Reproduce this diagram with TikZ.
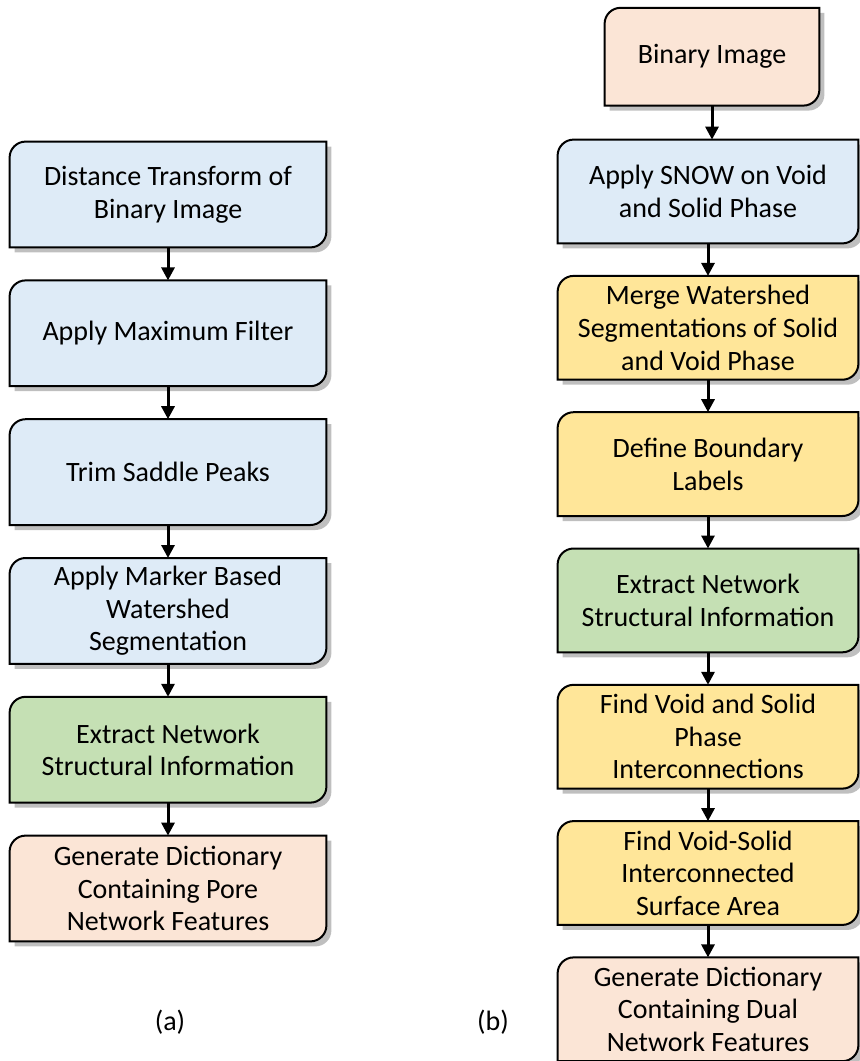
\documentclass[tikz,border=0pt]{standalone}
\usepackage{fontspec}
\setmainfont{Carlito}
\usetikzlibrary{positioning,arrows.meta,backgrounds,shadows}

\definecolor{stepblue}{HTML}{DEEBF7}
\definecolor{stepgreen}{HTML}{C5E0B4}
\definecolor{steppeach}{HTML}{FBE5D6}
\definecolor{stepyellow}{HTML}{FFE699}

\begin{document}
\begin{tikzpicture}[
    % one unit is one pixel of the reference, y grows downwards
    x=0.5pt, y=-0.5pt,
    % general settings
    node distance=16.5pt,
    align=center,
    % nodes
    base/.style={rectangle, inner sep=1pt, font=\fontsize{14}{16.3}\selectfont},
    lbox/.style={base, minimum width=158pt, minimum height=52.5pt},
    rbox/.style={base, minimum width=150pt, minimum height=51.5pt},
    sublabel/.style={font=\fontsize{14}{16}\selectfont},
    % box outline
    outline/.style={draw=black, line width=1pt,
                    drop shadow={shadow xshift=2.5pt, shadow yshift=-2.5pt, fill=black!50, opacity=0.5}},
    % arrows
    flow/.style={black, line width=1.5pt, -{Triangle[width=6.5pt,length=6.5pt]}},
  ]

  \useasboundingbox (0,0) rectangle (859,1061);

  % left column (a)
  \node (dist)    [lbox] at (168,194.5)      {Distance Transform of\\Binary Image};
  \node (maxf)    [lbox, below=of dist]      {Apply Maximum Filter};
  \node (trim)    [lbox, below=of maxf]      {Trim Saddle Peaks};
  \node (marker)  [lbox, below=of trim]      {Apply Marker Based\\Watershed\\Segmentation};
  \node (extA)    [lbox, below=of marker]    {Extract Network\\Structural Information};
  \node (dictA)   [lbox, below=of extA]      {Generate Dictionary\\Containing Pore\\Network Features};

  % right column (b)
  \node (snow)    [rbox] at (708,191.5)      {Apply SNOW on Void\\and Solid Phase};
  \node (binary)  [base, minimum width=107pt, minimum height=48.5pt,
                   above=17pt of snow, xshift=2pt] {Binary Image};
  \node (merge)   [rbox, below=16.25pt of snow]   {Merge Watershed\\Segmentations of Solid\\and Void Phase};
  \node (bound)   [rbox, below=16.25pt of merge]  {Define Boundary\\Labels};
  \node (extB)    [rbox, below=16.25pt of bound]  {Extract Network\\Structural Information};
  \node (inter)   [rbox, below=16.25pt of extB]   {Find Void and Solid\\Phase\\Interconnections};
  \node (surf)    [rbox, below=16.25pt of inter]  {Find Void-Solid\\Interconnected\\Surface Area};
  \node (dictB)   [rbox, below=16.25pt of surf]   {Generate Dictionary\\Containing Dual\\Network Features};

  \node (capA) [sublabel] at (170,1022) {(a)};
  \node (capB) [sublabel] at (493,1022) {(b)};

  % boxes with rounded top left and bottom right corners
  \begin{scope}[on background layer]
    \foreach \n/\c in {dist/stepblue, maxf/stepblue, trim/stepblue, marker/stepblue,
                       extA/stepgreen, dictA/steppeach,
                       binary/steppeach, snow/stepblue, merge/stepyellow, bound/stepyellow,
                       extB/stepgreen, inter/stepyellow, surf/stepyellow, dictB/steppeach}
      \path[outline, fill=\c]
        ([yshift=-8pt]\n.north west) arc[start angle=180, end angle=90, radius=8pt]
        -- (\n.north east) -- ([yshift=8pt]\n.south east)
        arc[start angle=0, end angle=-90, radius=8pt]
        -- (\n.south west) -- cycle;
  \end{scope}

  \draw[flow] (dist)   -- (maxf);
  \draw[flow] (maxf)   -- (trim);
  \draw[flow] (trim)   -- (marker);
  \draw[flow] (marker) -- (extA);
  \draw[flow] (extA)   -- (dictA);

  \draw[flow] (binary) -- (binary |- snow.north);
  \draw[flow] (snow)   -- (merge);
  \draw[flow] (merge)  -- (bound);
  \draw[flow] (bound)  -- (extB);
  \draw[flow] (extB)   -- (inter);
  \draw[flow] (inter)  -- (surf);
  \draw[flow] (surf)   -- (dictB);

\end{tikzpicture}
\end{document}
